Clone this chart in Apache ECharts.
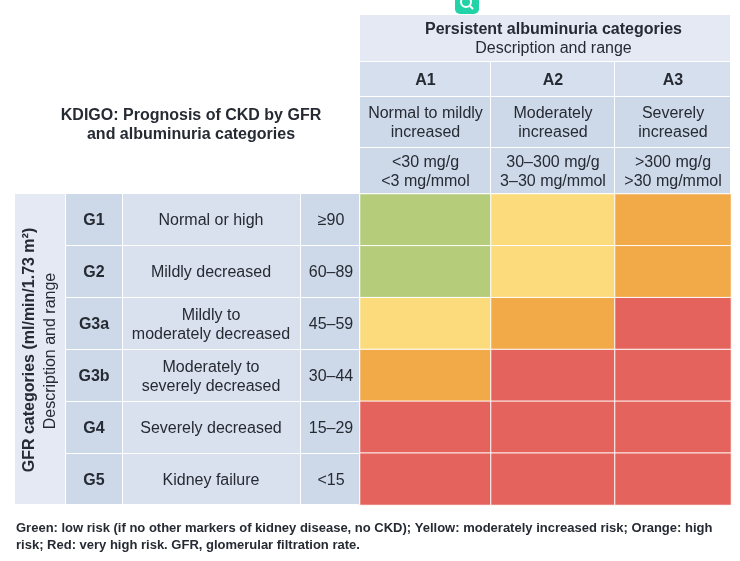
<!DOCTYPE html>
<html>
<head>
<meta charset="utf-8">
<title>KDIGO prognosis of CKD</title>
<script src="https://cdn.jsdelivr.net/npm/echarts@6/dist/echarts.min.js"></script>
<style>
  html, body { margin: 0; padding: 0; background: #fff; }
  #kdigo_chart { width: 740px; height: 561px; }
</style>
</head>
<body>
<div id="kdigo_chart"></div>
<script>
// table contents
const albCodes = ['A1', 'A2', 'A3'];
const albDescriptions = ['Normal to mildly\nincreased', 'Moderately\nincreased', 'Severely\nincreased'];
const albRanges = ['<30 mg/g\n<3 mg/mmol', '30–300 mg/g\n3–30 mg/mmol', '>300 mg/g\n>30 mg/mmol'];
const gfrCodes = ['G1', 'G2', 'G3a', 'G3b', 'G4', 'G5'];
const gfrDescriptions = ['Normal or high', 'Mildly decreased', 'Mildly to\nmoderately decreased', 'Moderately to\nseverely decreased', 'Severely decreased', 'Kidney failure'];
const gfrRanges = ['≥90', '60–89', '45–59', '30–44', '15–29', '<15'];

// risk level per GFR row: 0 low, 1 moderate, 2 high, 3 very high
const riskA1 = [0, 0, 1, 2, 3, 3];
const riskA2 = [1, 1, 2, 3, 3, 3];
const riskA3 = [2, 2, 3, 3, 3, 3];
const riskLevels = [0, 1, 2, 3];

const footnote = 'Green: low risk (if no other markers of kidney disease, no CKD); Yellow: moderately increased risk; Orange: high\nrisk; Red: very high risk. GFR, glomerular filtration rate.';

// layout, in px
const colEdges = [360, 491, 615, 731];
const rowEdges = [194, 246, 298, 350, 402, 454, 505];
const riskColors = ['#b5cc7a', '#fcdb7d', '#f2a948', '#e4635c'];
const FONT = '"Liberation Sans", Arial, sans-serif';
const INK = '#262a33';

function cell(x0, y0, x1, y1, fill) {
  return { type: 'rect', silent: true, shape: { x: x0 - 0.5, y: y0 - 0.5, width: x1 - x0, height: y1 - y0 }, style: { fill: fill, stroke: '#fff', lineWidth: 1 } };
}

function label(x, y, text, bold, extra) {
  return Object.assign({
    type: 'text', silent: true, x: x, y: y,
    style: {
      text: text, fill: INK, align: 'center', verticalAlign: 'middle',
      font: (bold ? 'bold ' : '') + '16px ' + FONT, lineHeight: 19
    }
  }, extra);
}

const elements = [];

// header above the risk cells
elements.push(cell(360, 15, 731, 62, '#e4e9f3'));
elements.push(label(553.5, 30, 'Persistent albuminuria categories', true));
elements.push(label(553.5, 49, 'Description and range', false));
albCodes.forEach((code, i) => {
  const x0 = colEdges[i], x1 = colEdges[i + 1], mid = (x0 + x1) / 2;
  elements.push(cell(x0, 62, x1, 97, '#d6dfed'));
  elements.push(cell(x0, 97, x1, 148, '#cdd9e9'));
  elements.push(cell(x0, 148, x1, 194, '#cdd9e9'));
  elements.push(label(mid, 81, code, true));
  elements.push(label(mid, 123, albDescriptions[i], false));
  elements.push(label(mid, 172, albRanges[i], false));
});

// title in the top left corner
elements.push(label(191, 125, 'KDIGO: Prognosis of CKD by GFR\nand albuminuria categories', true));

// GFR columns on the left
elements.push(cell(15, 194, 66, 505, '#e4e9f3'));
elements.push(label(30, 350, 'GFR categories (ml/min/1.73 m²)', true, { rotation: Math.PI / 2 }));
elements.push(label(51, 351, 'Description and range', false, { rotation: Math.PI / 2 }));
gfrCodes.forEach((code, i) => {
  const y0 = rowEdges[i], y1 = rowEdges[i + 1], mid = (y0 + y1) / 2;
  elements.push(cell(66, y0, 123, y1, '#cdd9e9'));
  elements.push(cell(123, y0, 301, y1, '#d9e1ee'));
  elements.push(cell(301, y0, 360, y1, '#cdd9e9'));
  elements.push(label(94, mid + 1, code, true));
  elements.push(label(211, mid + 1, gfrDescriptions[i], false));
  elements.push(label(331, mid + 1, gfrRanges[i], false));
});

// footnote
elements.push({
  type: 'text', silent: true, x: 16, y: 520,
  style: { text: footnote, fill: '#262a33', font: 'bold 13px ' + FONT, lineHeight: 17, align: 'left', verticalAlign: 'top' }
});

// the small teal badge cut off at the top
elements.push({ type: 'rect', silent: true, shape: { x: 455, y: -8, width: 24, height: 22, r: 5 }, style: { fill: '#22d3a8' } });
elements.push({ type: 'circle', silent: true, shape: { cx: 466, cy: 2, r: 5 }, style: { fill: 'none', stroke: '#fff', lineWidth: 2 } });
elements.push({ type: 'line', silent: true, shape: { x1: 470, y1: 6, x2: 473, y2: 9 }, style: { stroke: '#fff', lineWidth: 2 } });

// one grid per albuminuria column since they have different widths
const riskColumns = [riskA1, riskA2, riskA3];
const grids = [], xAxes = [], yAxes = [], series = [];
riskColumns.forEach((risk, i) => {
  grids.push({ left: colEdges[i], top: rowEdges[0], width: colEdges[i + 1] - colEdges[i], height: rowEdges[6] - rowEdges[0] });
  xAxes.push({ type: 'category', gridIndex: i, data: [albCodes[i]], show: false });
  yAxes.push({ type: 'category', gridIndex: i, data: gfrCodes, inverse: true, show: false });
  series.push({
    type: 'heatmap',
    name: albCodes[i],
    xAxisIndex: i,
    yAxisIndex: i,
    data: risk.map((level, row) => [0, row, level]),
    itemStyle: { borderColor: '#fff', borderWidth: 1 },
    emphasis: { disabled: true },
    progressive: 0
  });
});

const myChart = echarts.init(document.getElementById('kdigo_chart'));
myChart.setOption({
  animation: false,
  backgroundColor: '#fff',
  textStyle: { fontFamily: FONT },
  grid: grids,
  xAxis: xAxes,
  yAxis: yAxes,
  visualMap: {
    show: false,
    type: 'piecewise',
    dimension: 2,
    seriesIndex: [0, 1, 2],
    pieces: riskLevels.map((level) => ({ value: level, color: riskColors[level] }))
  },
  series: series,
  graphic: { elements: elements }
});
</script>
</body>
</html>
